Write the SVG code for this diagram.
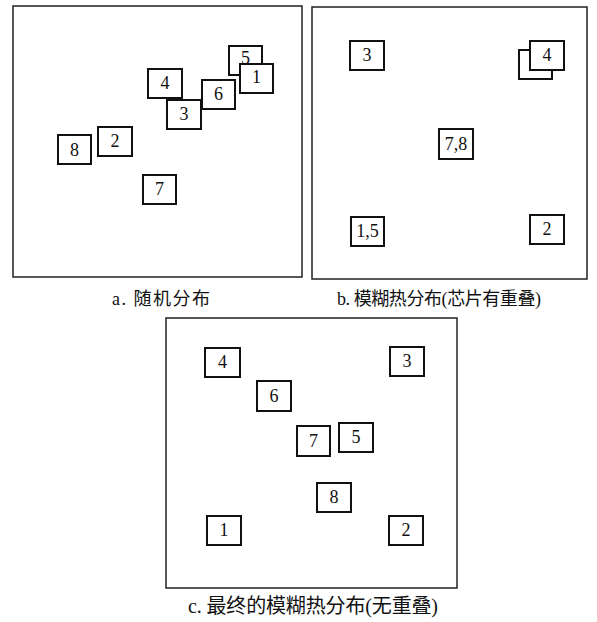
<svg xmlns="http://www.w3.org/2000/svg" width="597" height="622" viewBox="0 0 597 622">
<style>
.frame{fill:#fff;stroke:#222;stroke-width:1.5}
.box{fill:#fff;stroke:#111;stroke-width:2}
.lbl{font-family:"Liberation Serif","Times New Roman",serif;font-size:18px;fill:#111;text-anchor:middle;dominant-baseline:central}
.cap{font-family:"Liberation Serif","Noto Sans CJK SC",serif;font-size:18px;fill:#111}
</style>
<rect width="597" height="622" fill="#fff"/>
<g id="panel-a">
<rect class="frame" x="13" y="6" width="289" height="271"/>
<g id="a5"><rect class="box" x="229" y="46" width="33" height="29"/><text class="lbl" x="245.5" y="58">5</text></g>
<g id="a1"><rect class="box" x="240" y="64" width="33" height="29"/><text class="lbl" x="256.5" y="77">1</text></g>
<g id="a4"><rect class="box" x="148" y="69" width="34" height="29"/><text class="lbl" x="165" y="83">4</text></g>
<g id="a6"><rect class="box" x="202" y="80" width="33" height="29"/><text class="lbl" x="218.5" y="94">6</text></g>
<g id="a3"><rect class="box" x="167" y="100" width="34" height="29"/><text class="lbl" x="184" y="114">3</text></g>
<g id="a2"><rect class="box" x="98" y="127" width="34" height="29"/><text class="lbl" x="115" y="141">2</text></g>
<g id="a8"><rect class="box" x="58" y="135" width="33" height="29"/><text class="lbl" x="74.5" y="150">8</text></g>
<g id="a7"><rect class="box" x="143" y="175" width="33" height="29"/><text class="lbl" x="159.5" y="189">7</text></g>
<text class="cap" x="112" y="305" textLength="98" lengthAdjust="spacing">a. 随机分布</text>
</g>
<g id="panel-b">
<rect class="frame" x="312" y="7" width="275" height="272"/>
<g id="b3"><rect class="box" x="350" y="41" width="34" height="29"/><text class="lbl" x="367" y="55">3</text></g>
<g id="b4"><rect class="box" x="519" y="50" width="33" height="29"/><rect class="box" x="530" y="41" width="34" height="29"/><text class="lbl" x="547" y="55">4</text></g>
<g id="b78"><rect class="box" x="439" y="129" width="34" height="30"/><text class="lbl" x="456" y="144">7,8</text></g>
<g id="b15"><rect class="box" x="351" y="217" width="33" height="29"/><text class="lbl" x="367.5" y="231">1,5</text></g>
<g id="b2"><rect class="box" x="530" y="215" width="34" height="29"/><text class="lbl" x="547" y="229">2</text></g>
<text class="cap" x="337" y="305" textLength="204" lengthAdjust="spacing">b. 模糊热分布(芯片有重叠)</text>
</g>
<g id="panel-c">
<rect class="frame" x="166" y="318" width="291" height="270"/>
<g id="c4"><rect class="box" x="205" y="348" width="35" height="29"/><text class="lbl" x="222.5" y="362">4</text></g>
<g id="c3"><rect class="box" x="390" y="347" width="34" height="29"/><text class="lbl" x="407" y="361">3</text></g>
<g id="c6"><rect class="box" x="257" y="381" width="34" height="30"/><text class="lbl" x="274" y="396">6</text></g>
<g id="c7"><rect class="box" x="297" y="426" width="33" height="30"/><text class="lbl" x="313.5" y="441">7</text></g>
<g id="c5"><rect class="box" x="339" y="423" width="34" height="29"/><text class="lbl" x="356" y="437">5</text></g>
<g id="c8"><rect class="box" x="317" y="483" width="34" height="29"/><text class="lbl" x="334" y="497">8</text></g>
<g id="c1"><rect class="box" x="207" y="516" width="34" height="29"/><text class="lbl" x="224" y="530">1</text></g>
<g id="c2"><rect class="box" x="389" y="516" width="34" height="29"/><text class="lbl" x="406" y="530">2</text></g>
<text class="cap" x="188" y="613" style="font-size:20px" textLength="250" lengthAdjust="spacing">c. 最终的模糊热分布(无重叠)</text>
</g>
<g id="connectors"/>
</svg>
